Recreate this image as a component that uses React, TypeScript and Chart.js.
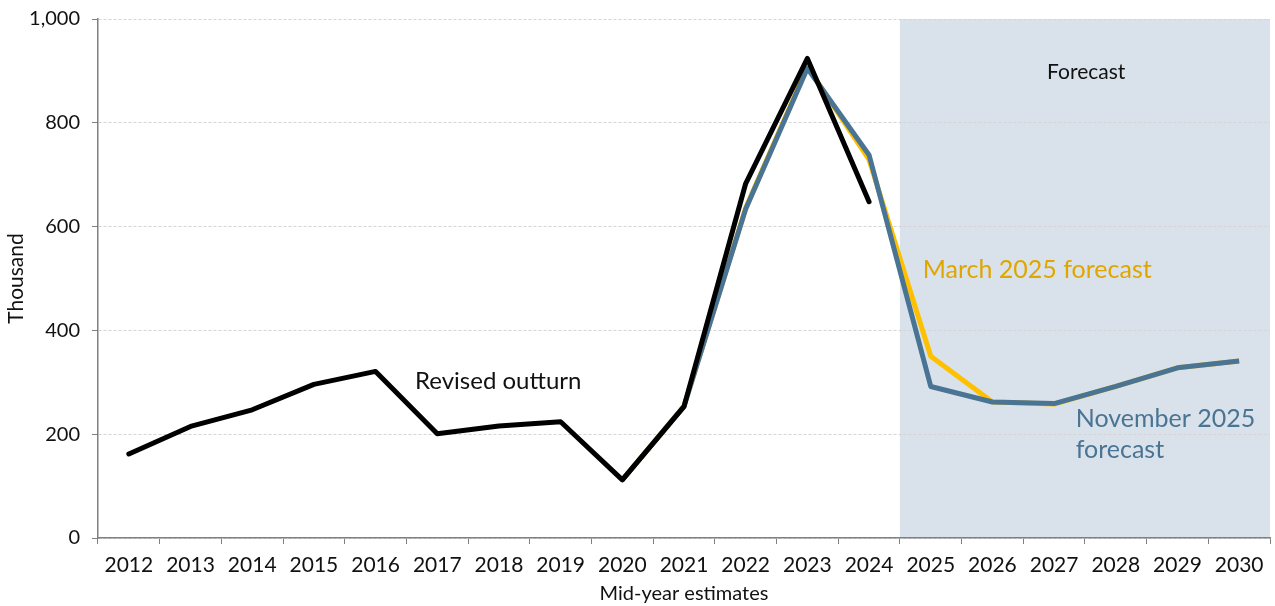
import React, { useEffect, useRef } from "react";
import { Chart, registerables } from "chart.js";

Chart.register(...registerables);

const years = ["2012","2013","2014","2015","2016","2017","2018","2019","2020","2021","2022","2023","2024","2025","2026","2027","2028","2029","2030"];
const revisedOutturn = [162, 215, 247, 296, 321, 201, 216, 224, 112, 253, 683, 924, 648, null, null, null, null, null, null];
const march2025 = [null, null, null, null, null, null, null, null, 112, 254, 636, 908, 729, 350, 262, 258, 292, 328, 341];
const november2025 = [null, null, null, null, null, null, null, null, 112, 254, 634, 905, 738, 292, 262, 259, 292, 328, 341];
const yTicks = [0, 200, 400, 600, 800, 1000];
const forecastStartIndex = 13;

const FONT = "Lato";

const shadePlugin = {
  id: "forecastShade",
  beforeDraw(chart: any) {
    const { ctx, chartArea, scales } = chart;
    const x = scales.x;
    const left = (x.getPixelForValue(forecastStartIndex - 1) + x.getPixelForValue(forecastStartIndex)) / 2;
    ctx.save();
    ctx.fillStyle = "#d9e2ea";
    ctx.fillRect(left, chartArea.top, chartArea.right - left, chartArea.bottom - chartArea.top);
    ctx.restore();
  },
};

const labelPlugin = {
  id: "seriesLabels",
  afterDatasetsDraw(chart: any) {
    const { ctx, scales } = chart;
    const x = scales.x;
    const y = scales.y;
    const put = (text: string, xi: number, yv: number, color: string, size: number, align: CanvasTextAlign) => {
      ctx.save();
      ctx.font = `${size}px ${FONT}`;
      ctx.fillStyle = color;
      ctx.textAlign = align;
      ctx.textBaseline = "middle";
      ctx.fillText(text, x.getPixelForValue(xi), y.getPixelForValue(yv));
      ctx.restore();
    };
    put("Forecast", 15.52, 898, "#111111", 21, "center");
    put("Revised outturn", 4.64, 302, "#111111", 24, "left");
    put("March 2025 forecast", 12.87, 516, "#e0a600", 25, "left");
    put("November 2025", 15.35, 229, "#4a7493", 25, "left");
    put("forecast", 15.35, 170, "#4a7493", 25, "left");
  },
};

export default function App() {
  const ref = useRef<HTMLCanvasElement | null>(null);
  useEffect(() => {
    if (!ref.current) return;
    const chart = new Chart(ref.current, {
      type: "line",
      data: {
        labels: years,
        datasets: [
          { label: "November 2025 forecast", data: november2025, borderColor: "#4a7493", borderWidth: 5, pointRadius: 0, order: 2 },
          { label: "March 2025 forecast", data: march2025, borderColor: "#ffc000", borderWidth: 5, pointRadius: 0, order: 3 },
          { label: "Revised outturn", data: revisedOutturn, borderColor: "#000000", borderWidth: 5, pointRadius: 0, order: 1, borderCapStyle: "round" },
        ],
      },
      options: {
        animation: false,
        responsive: true,
        maintainAspectRatio: false,
        layout: { padding: { top: 19, right: 5, left: 0, bottom: 0 } },
        plugins: { legend: { display: false }, tooltip: { enabled: false } },
        elements: { line: { tension: 0, borderJoinStyle: "round" } },
        scales: {
          x: {
            offset: true,
            grid: { drawOnChartArea: false, drawTicks: true, tickLength: 6, color: "#808080", offset: true },
            border: { color: "#808080", width: 1.5 },
            ticks: { color: "#111111", font: { family: FONT, size: 21 }, padding: 9, maxRotation: 0, autoSkip: false },
            title: { display: true, text: "Mid-year estimates", color: "#111111", font: { family: FONT, size: 20 }, padding: { top: 0, bottom: 0 } },
            afterFit: (s: any) => { s.height = 68; s.paddingLeft = 0; s.paddingRight = 0; },
          },
          y: {
            min: 0,
            max: 1000,
            afterBuildTicks: (s: any) => { s.ticks = yTicks.map((v) => ({ value: v })); },
            grid: { color: "#d4d4d4", lineWidth: 1, tickLength: 6, tickColor: "#808080", tickBorderDash: [] },
            border: { color: "#808080", width: 1.5, dash: [3, 2] },
            ticks: { color: "#111111", font: { family: FONT, size: 20 }, padding: 12 },
            title: { display: true, text: "Thousand", color: "#111111", font: { family: FONT, size: 21 }, padding: { top: 4, bottom: 0 } },
            afterFit: (s: any) => { s.width = 98; s.paddingTop = 0; s.paddingBottom = 0; },
          },
        },
      },
      plugins: [shadePlugin, labelPlugin],
    });
    return () => chart.destroy();
  }, []);
  return (
    <div style={{ position: "fixed", left: 0, top: 0, width: 1275, height: 606, background: "#fff" }}>
      <canvas ref={ref} />
    </div>
  );
}
